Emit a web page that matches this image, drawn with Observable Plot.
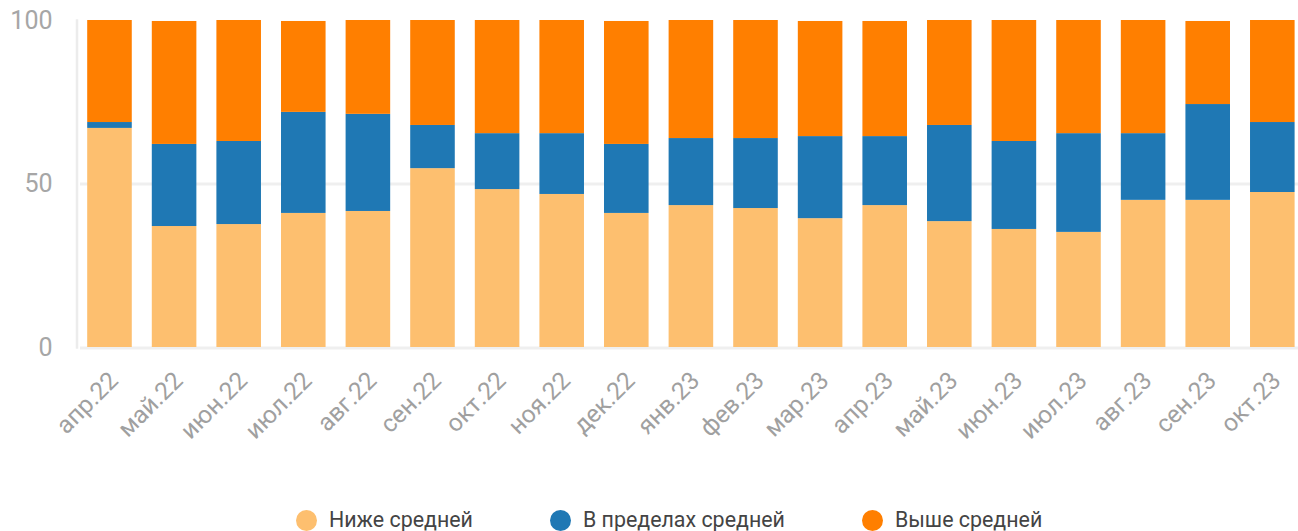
<!DOCTYPE html>
<html>
<head>
<meta charset="utf-8">
<script src="https://cdn.jsdelivr.net/npm/d3@7"></script>
<script src="https://cdn.jsdelivr.net/npm/@observablehq/plot@0.6"></script>
<style>
  html, body { margin: 0; padding: 0; background: #fff; }
  body { font-family: Roboto, "Noto Sans", sans-serif; width: 1298px; height: 531px; overflow: hidden; position: relative; }
  #chart { position: absolute; left: 0; top: 0; }
  #legend { position: absolute; left: 296px; top: 509px; display: flex; align-items: center; gap: 77px; font-size: 21.4px; color: #444; }
  .item { display: flex; align-items: center; gap: 12px; line-height: 22px; }
  .dot { width: 21px; height: 21px; border-radius: 50%; display: inline-block; }
</style>
</head>
<body>
<div id="chart"></div>
<div id="legend"></div>
<script>
const months = ["апр.22","май.22","июн.22","июл.22","авг.22","сен.22","окт.22","ноя.22","дек.22",
  "янв.23","фев.23","мар.23","апр.23","май.23","июн.23","июл.23","авг.23","сен.23","окт.23"];
const seriesNames = ["Ниже средней", "В пределах средней", "Выше средней"];
const seriesColors = ["#fdbf6f", "#1f78b4", "#ff7f00"];
const below  = [67.0, 37.0, 37.6, 41.0, 41.6, 54.7, 48.3, 46.8, 41.0, 43.4, 42.5, 39.4, 43.4, 38.5, 36.1, 35.2, 45.0, 45.0, 47.4];
const within = [ 1.8, 25.1, 25.4, 30.9, 29.7, 13.2, 17.1, 18.6, 21.1, 20.5, 21.4, 25.1, 21.1, 29.4, 26.9, 30.2, 20.4, 29.3, 21.4];
const above  = [31.2, 37.6, 37.0, 27.8, 28.7, 32.1, 34.6, 34.6, 37.6, 36.1, 36.1, 35.2, 35.2, 32.1, 37.0, 34.6, 34.6, 25.4, 31.2];
const yTicks = [0, 50, 100];

const seriesValues = [below, within, above];
const data = [];
months.forEach((m, i) => {
  seriesNames.forEach((s, j) => data.push({month: m, series: s, value: seriesValues[j][i]}));
});

const W = 1298, H = 470;
const plot = Plot.plot({
  width: W,
  height: H,
  marginTop: 20,
  marginBottom: H - 347,
  marginLeft: 78,
  marginRight: 0,
  style: {fontFamily: "Roboto, sans-serif", background: "#fff"},
  x: {domain: months, paddingInner: 0.31, paddingOuter: 0.0975, align: 0.73, round: false, label: null},
  y: {domain: [0, 100], label: null},
  color: {domain: seriesNames, range: seriesColors},
  marks: [
    Plot.ruleY([50], {stroke: "#efefef", strokeWidth: 3, insetLeft: 2}),
    Plot.ruleY([0], {stroke: "#efefef", strokeWidth: 3, insetLeft: 2, dy: 0.5}),
    Plot.frame({anchor: "left", stroke: "#ececec", strokeWidth: 2.5, dx: -1.5}),
    Plot.barY(data, {x: "month", y: "value", fill: "series", order: seriesNames}),
    Plot.axisY({ticks: yTicks, tickSize: 0, tickPadding: 26, fontSize: 25, color: "#a6a6a6", label: null}),
    Plot.axisX({tickRotate: -45, tickSize: 0, tickPadding: 29, dx: 4, fontSize: 24.5, color: "#a0a0a0", label: null})
  ]
});
document.getElementById("chart").appendChild(plot);

const legend = document.getElementById("legend");
seriesNames.forEach((s, j) => {
  const it = document.createElement("div");
  it.className = "item";
  const d = document.createElement("span");
  d.className = "dot";
  d.style.background = seriesColors[j];
  const t = document.createElement("span");
  t.textContent = s;
  it.appendChild(d); it.appendChild(t);
  legend.appendChild(it);
});
</script>
</body>
</html>
